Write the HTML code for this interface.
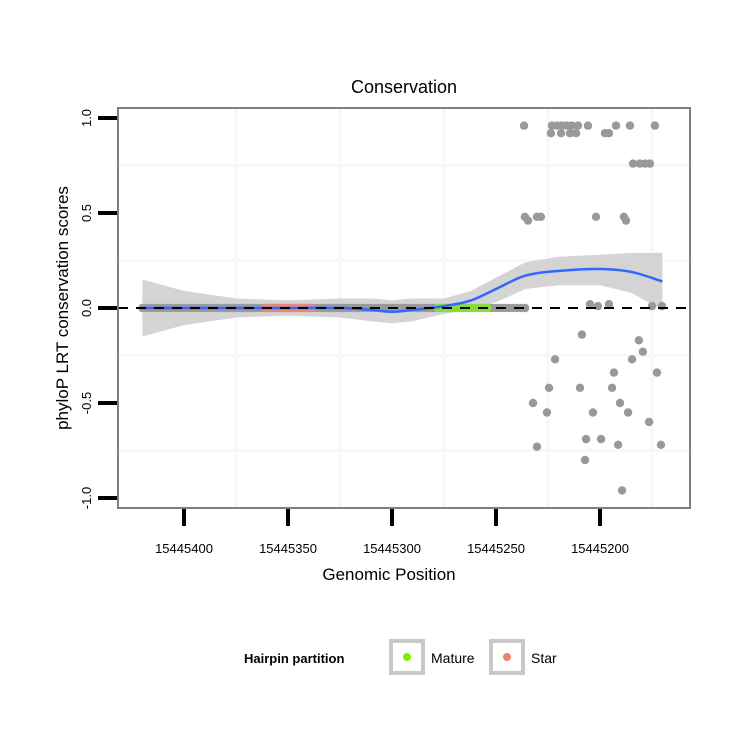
<!DOCTYPE html>
<html><head><meta charset="utf-8"><style>
body{margin:0;background:#fff}
svg{display:block;font-family:"Liberation Sans",sans-serif}
</style></head><body>
<svg id="c" width="750" height="750" viewBox="0 0 750 750">
<rect x="118" y="108" width="572" height="400" fill="#fff"/>
<g id="grid"></g>
<g id="ribbon"></g>
<g id="pts"></g>
<g id="fit"></g>
<line x1="118" x2="690" y1="308" y2="308" stroke="#000" stroke-width="2" stroke-dasharray="10,8"/>
<rect x="118" y="108" width="572" height="400" fill="none" stroke="#7f7f7f" stroke-width="2"/>
<g id="axes"></g>
<text x="404" y="93" font-size="18" text-anchor="middle">Conservation</text>
<text x="389" y="580" font-size="17" text-anchor="middle">Genomic Position</text>
<text transform="translate(68,308) rotate(-90)" font-size="17" text-anchor="middle">phyloP LRT conservation scores</text>
<g>
<text x="244" y="663" font-size="13" font-weight="bold">Hairpin partition</text>
<g>
<rect x="391" y="641" width="32" height="32" fill="#fff" stroke="#c8c8c8" stroke-width="4"/>
<circle cx="407" cy="657" r="4" fill="#7cf000"/>
<text x="431" y="663" font-size="14">Mature</text></g>
<g>
<rect x="491" y="641" width="32" height="32" fill="#fff" stroke="#c8c8c8" stroke-width="4"/>
<circle cx="507" cy="657" r="4" fill="#f08070"/>
<text x="531" y="663" font-size="14">Star</text></g>
</g>
</svg>
<script>
const xTicks=[15445400,15445350,15445300,15445250,15445200];
const yTicks=[1.0,0.5,0.0,-0.5,-1.0];
const yTickLabels=["1.0","0.5","0.0","-0.5","-1.0"];
const stripPos=[15445420,15445418,15445416,15445414,15445412,15445410,15445408,15445406,15445404,15445402,15445400,15445398,15445396,15445394,15445392,15445390,15445388,15445386,15445384,15445382,15445380,15445378,15445376,15445374,15445372,15445370,15445368,15445366,15445364,15445362,15445360,15445358,15445356,15445354,15445352,15445350,15445348,15445346,15445344,15445342,15445340,15445338,15445336,15445334,15445332,15445330,15445328,15445326,15445324,15445322,15445320,15445318,15445316,15445314,15445312,15445310,15445308,15445306,15445304,15445302,15445300,15445298,15445296,15445294,15445292,15445290,15445288,15445286,15445284,15445282,15445280,15445278,15445276,15445274,15445272,15445270,15445268,15445266,15445264,15445262,15445260,15445258,15445256,15445254,15445252,15445250,15445248,15445246,15445244,15445242,15445240,15445238,15445236];
const starPos=[15445361,15445359,15445357,15445355,15445353,15445351,15445349,15445347,15445345,15445343,15445341,15445339];
const maturePos=[15445278,15445276,15445274,15445272,15445270,15445268,15445266,15445264,15445262,15445260,15445258,15445256,15445254];
const scatterPos=[15445236.5,15445223.1,15445220.7,15445218.3,15445215.9,15445213.5,15445210.6,15445205.8,15445192.3,15445185.6,15445173.6,
15445223.6,15445218.7,15445214.4,15445211.5,15445197.6,15445195.7,
15445184.1,15445180.8,15445178.4,15445176.0,
15445236.1,15445234.6,15445230.3,15445228.4,15445201.9,15445188.5,15445187.5,
15445204.8,15445201,15445195.7,15445175,15445170.2,
15445208.7,15445181.3,15445179.4,15445221.6,15445184.6,15445193.3,15445172.6,15445224.5,15445209.6,15445194.2,15445232.2,15445225.5,15445203.4,15445190.4,15445186.5,15445176.4,15445206.7,15445199.5,15445191.3,15445230.3,15445170.7,15445207.2,15445189.4];
const scatterVal=[0.96,0.96,0.96,0.96,0.96,0.96,0.96,0.96,0.96,0.96,0.96,
0.92,0.92,0.92,0.92,0.92,0.92,
0.76,0.76,0.76,0.76,
0.48,0.46,0.48,0.48,0.48,0.48,0.46,
0.02,0.01,0.02,0.01,0.01,
-0.14,-0.17,-0.23,-0.27,-0.27,-0.34,-0.34,-0.42,-0.42,-0.42,-0.5,-0.55,-0.55,-0.5,-0.55,-0.6,-0.69,-0.69,-0.72,-0.73,-0.72,-0.8,-0.96];
const fitPos=[15445420,15445400,15445375,15445350,15445325,15445310,15445300,15445290,15445275,15445262,15445250,15445236,15445220,15445200,15445185,15445170];
const fitVal=[0,0,0,0,0,-0.01,-0.02,-0.01,0.01,0.04,0.1,0.17,0.195,0.205,0.19,0.14];
const fitLo=[-0.15,-0.09,-0.05,-0.04,-0.05,-0.07,-0.08,-0.07,-0.03,-0.01,0.03,0.1,0.12,0.12,0.08,-0.01];
const fitHi=[0.15,0.09,0.05,0.04,0.05,0.05,0.04,0.05,0.05,0.09,0.16,0.24,0.27,0.28,0.29,0.29];

const X=p=>184+(15445400-p)*2.08;
const Y=v=>308-v*190;
const NS="http://www.w3.org/2000/svg";
function mk(t,a,parent){const e=document.createElementNS(NS,t);for(const k in a)e.setAttribute(k,a[k]);parent.appendChild(e);return e;}
const grid=document.getElementById('grid'),axes=document.getElementById('axes');
for(let i=0;i<xTicks.length;i++){
 const gx=X(xTicks[i]-25);
 const g=mk('line',{x1:gx,x2:gx,y1:108,y2:508,stroke:'#f7f7f7','stroke-width':3},grid);
 
 
 const t=mk('line',{x1:X(xTicks[i]),x2:X(xTicks[i]),y1:509,y2:526,stroke:'#000','stroke-width':4},axes);
 
 
 const l=mk('text',{x:X(xTicks[i]),y:553,'font-size':13,'text-anchor':'middle'},axes);
 l.textContent=xTicks[i];
 
 
}
for(let i=0;i<yTicks.length;i++){
 if(i<yTicks.length-1){const gy=Y(yTicks[i]-0.25);
 const g=mk('line',{x1:118,x2:690,y1:gy,y2:gy,stroke:'#f7f7f7','stroke-width':3},grid);
 
 }
 const t=mk('line',{x1:98,x2:117,y1:Y(yTicks[i]),y2:Y(yTicks[i]),stroke:'#000','stroke-width':4},axes);
 
 
 const l=mk('text',{transform:`translate(91,${Y(yTicks[i])}) rotate(-90)`,'font-size':13,'text-anchor':'middle'},axes);
 l.textContent=yTickLabels[i];
 
 
}
let d='M'+fitPos.map((p,i)=>X(p)+','+Y(fitHi[i])).join('L');
for(let i=fitPos.length-1;i>=0;i--)d+='L'+X(fitPos[i])+','+Y(fitLo[i]);
const rb=mk('path',{d:d+'Z',fill:'#d4d4d4'},document.getElementById('ribbon'));


const pts=document.getElementById('pts');
stripPos.forEach(p=>{const c=mk('circle',{cx:X(p),cy:Y(0),r:4.2,fill:'#999'},pts);
 
 });
starPos.forEach(p=>{const c=mk('circle',{cx:X(p),cy:Y(0),r:4.2,fill:'#e8877c'},pts);
 
 });
maturePos.forEach(p=>{const c=mk('circle',{cx:X(p),cy:Y(0),r:4.2,fill:'#86dd3a'},pts);
 
 });
scatterPos.forEach((p,i)=>{const c=mk('circle',{cx:X(p),cy:Y(scatterVal[i]),r:4.2,fill:'#999'},pts);
 
 });
const P=fitPos.map((p,i)=>[X(p),Y(fitVal[i])]);
let s='M'+P[0][0]+','+P[0][1];
for(let i=0;i<P.length-1;i++){const p0=P[Math.max(0,i-1)],p1=P[i],p2=P[i+1],p3=P[Math.min(P.length-1,i+2)];
 s+=`C${p1[0]+(p2[0]-p0[0])/6},${p1[1]+(p2[1]-p0[1])/6} ${p2[0]-(p3[0]-p1[0])/6},${p2[1]-(p3[1]-p1[1])/6} ${p2[0]},${p2[1]}`;}
const fl=mk('path',{d:s,fill:'none',stroke:'#3366ff','stroke-width':2.5},document.getElementById('fit'));


</script>
</body></html>
